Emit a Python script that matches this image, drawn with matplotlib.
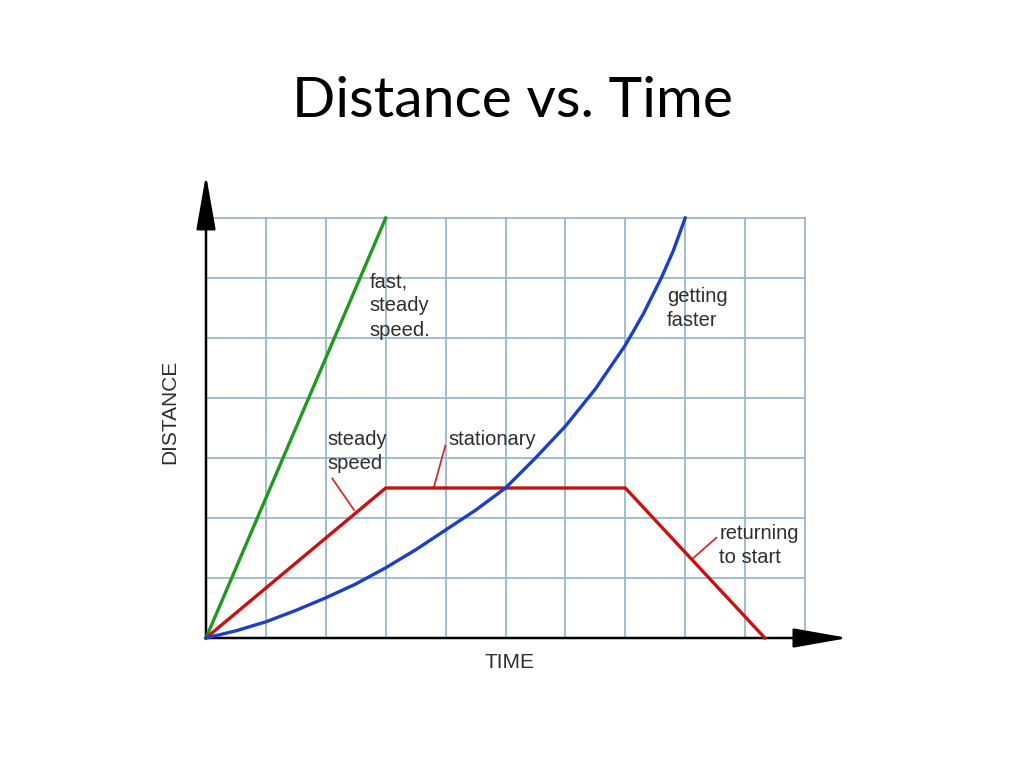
import matplotlib
matplotlib.use('Agg')
import matplotlib.pyplot as plt

# time in grid units, distance in grid units
fast_t = [0, 3]
fast_d = [0, 7]

steady_t = [0, 3, 7, 9.33]
steady_d = [0, 2.5, 2.5, 0]

faster_t = [0, 0.5, 1, 1.5, 2, 2.5, 3, 3.5, 4, 4.5, 5, 5.5, 6, 6.5, 7, 7.3, 7.6, 7.8, 8]
faster_d = [0, 0.12, 0.27, 0.46, 0.67, 0.9, 1.17, 1.47, 1.8, 2.13, 2.5, 3.0, 3.53, 4.15, 4.88, 5.4, 6.0, 6.45, 7.0]

grid_x = list(range(0, 11))
grid_y = list(range(0, 8))

TXT = '#2e2e2e'
GRID = '#9ab8cc'


def leader(ax, p0, p1):
    ax.plot([p0[0], p1[0]], [p0[1], p1[1]], color='#dd2a2a', lw=1.3, solid_capstyle='butt')


fig = plt.figure(figsize=(10.24, 7.68), dpi=100)
fig.text(0.5, 0.874, 'Distance vs. Time', ha='center', va='center_baseline',
         fontsize=41, family='Lato', color='black')

ax = fig.add_axes([206 / 1024, 130 / 768, 599 / 1024, 420 / 768])
ax.set_xlim(0, 10)
ax.set_ylim(0, 7)
for s in ax.spines.values():
    s.set_visible(False)
ax.set_xticks([])
ax.set_yticks([])

for gx in grid_x:
    ax.axvline(gx, color=GRID, lw=1.3, clip_on=False, zorder=1)
for gy in grid_y:
    ax.axhline(gy, color=GRID, lw=1.3, clip_on=False, zorder=1)

# axes with arrow heads
arrow = dict(arrowstyle='-|>,head_length=1.7,head_width=0.3', color='black',
             lw=1.8, mutation_scale=20, shrinkA=0, shrinkB=0)
ax.annotate('', xy=(10.72, 0), xytext=(0, 0), arrowprops=arrow, annotation_clip=False)
ax.annotate('', xy=(0, 7.72), xytext=(0, 0), arrowprops=arrow, annotation_clip=False)

ax.plot(fast_t, fast_d, color='#1e9a1e', lw=2.4, zorder=4, clip_on=False)
ax.plot(steady_t, steady_d, color='#cc1010', lw=2.4, zorder=4, clip_on=False)
ax.plot(faster_t, faster_d, color='#1a3fcc', lw=2.4, zorder=4, clip_on=False)

tkw = dict(fontsize=14.5, family='Liberation Sans', color=TXT, va='top', ha='left',
           linespacing=1.35)
ax.text(2.73, 6.1, 'fast,\nsteady\nspeed.', **tkw)
ax.text(2.03, 3.47, 'steady\nspeed', **tkw)
ax.text(4.05, 3.47, 'stationary', **tkw)
ax.text(7.7, 5.85, 'getting\nfaster', **tkw)
ax.text(8.57, 1.9, 'returning\nto start', **tkw)

leader(ax, (2.1, 2.67), (2.48, 2.12))
leader(ax, (4.0, 3.22), (3.8, 2.5))
leader(ax, (8.53, 1.68), (8.12, 1.32))

ax.text(5.07, -0.4, 'TIME', ha='center', va='center', fontsize=15,
        family='Liberation Sans', color=TXT)
ax.text(-0.6, 3.77, 'DISTANCE', ha='center', va='center', rotation=90, fontsize=15,
        family='Liberation Sans', color=TXT)

fig.savefig('out.png', dpi=100)
